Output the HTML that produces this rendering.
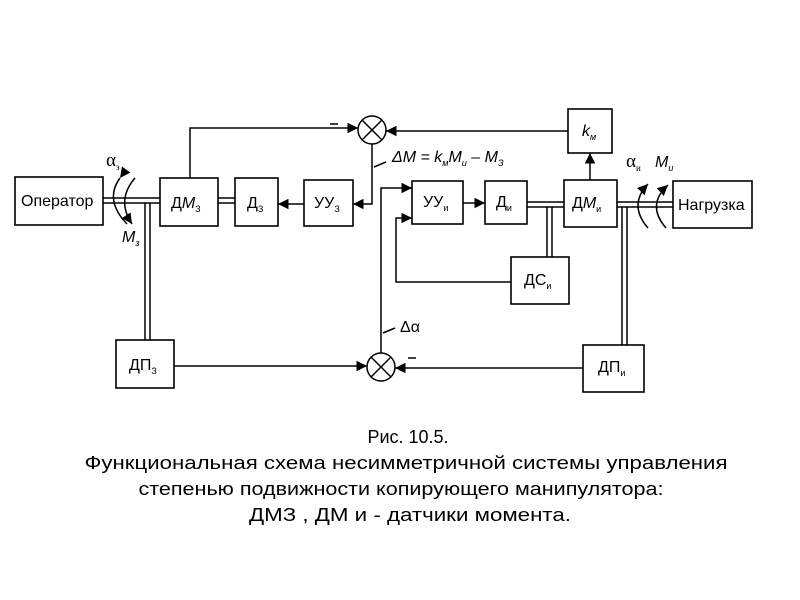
<!DOCTYPE html>
<html><head><meta charset="utf-8"><style>
body{margin:0;background:#fff;}
svg{display:block;font-family:"Liberation Sans",sans-serif;}
.b{fill:#fff;stroke:#000;stroke-width:1.6}
.l{fill:none;stroke:#000;stroke-width:1.5}
.t{font-size:16px;}
.s{font-size:9px;}
.cap{font-size:18px;}
</style></head><body>
<svg width="800" height="600" viewBox="0 0 800 600">
<defs><marker id="a" viewBox="0 0 10 10" refX="10" refY="5" markerWidth="7" markerHeight="7" orient="auto"><path d="M0,0L10,5L0,10z"/></marker></defs>
<g class="l" stroke-width="1.3">
<line x1="103" y1="198" x2="160" y2="198"/><line x1="103" y1="203" x2="160" y2="203"/>
<line x1="145" y1="203" x2="145" y2="340"/><line x1="150" y1="203" x2="150" y2="340"/>
<line x1="218" y1="198" x2="235" y2="198"/><line x1="218" y1="203" x2="235" y2="203"/>
<line x1="527" y1="202" x2="564" y2="202"/><line x1="527" y1="207" x2="564" y2="207"/>
<line x1="547" y1="207" x2="547" y2="257"/><line x1="552" y1="207" x2="552" y2="257"/>
<line x1="617" y1="202" x2="673" y2="202"/><line x1="617" y1="207" x2="673" y2="207"/>
<line x1="622" y1="207" x2="622" y2="345"/><line x1="627" y1="207" x2="627" y2="345"/>
</g>
<rect class="b" x="15" y="177" width="88" height="48"/>
<rect class="b" x="160" y="178" width="58" height="48"/>
<rect class="b" x="235" y="178" width="43" height="48"/>
<rect class="b" x="304" y="180" width="49" height="46"/>
<rect class="b" x="116" y="340" width="58" height="48"/>
<rect class="b" x="568" y="109" width="44" height="44"/>
<rect class="b" x="564" y="180" width="53" height="47"/>
<rect class="b" x="412" y="181" width="51" height="43"/>
<rect class="b" x="485" y="181" width="42" height="43"/>
<rect class="b" x="511" y="257" width="58" height="47"/>
<rect class="b" x="583" y="345" width="61" height="47"/>
<rect class="b" x="673" y="181" width="79" height="47"/>
<g class="l"><circle cx="372" cy="130" r="14"/><line x1="362" y1="120" x2="382" y2="140"/><line x1="382" y1="120" x2="362" y2="140"/>
<circle cx="381" cy="367" r="14"/><line x1="371" y1="357" x2="391" y2="377"/><line x1="391" y1="357" x2="371" y2="377"/></g>
<g class="l">
<polyline points="190,178 190,128 358,128" marker-end="url(#a)"/>
<line x1="568" y1="131" x2="386" y2="131" marker-end="url(#a)"/>
<polyline points="372,144 372,204 353,204" marker-end="url(#a)"/>
<line x1="304" y1="204" x2="278" y2="204" marker-end="url(#a)"/>
<line x1="590" y1="180" x2="590" y2="153" marker-end="url(#a)"/>
<line x1="463" y1="203" x2="485" y2="203" marker-end="url(#a)"/>
<polyline points="511,282 396,282 396,218 412,218" marker-end="url(#a)"/>
<polyline points="381,353 381,188 412,188" marker-end="url(#a)"/>
<line x1="174" y1="366" x2="367" y2="366" marker-end="url(#a)"/>
<line x1="583" y1="368" x2="395" y2="368" marker-end="url(#a)"/>
<line x1="374" y1="167" x2="386" y2="162"/>
<line x1="383" y1="333" x2="395" y2="328"/>
<line x1="330" y1="124" x2="338" y2="124"/>
<line x1="408" y1="358" x2="416" y2="358"/>
<path d="M120,178 Q104,200 127,224" marker-start="url(#a)"/>
<path d="M135,178 Q116,200 132,224" marker-end="url(#a)"/>
<path d="M648,228 Q628,205 648,184" marker-end="url(#a)"/>
<path d="M666,228 Q646,205 668,185" marker-end="url(#a)"/>
</g>
<g class="t">
<text x="21" y="206">Оператор</text>
<text x="171" y="208">Д<tspan font-style="italic">М</tspan><tspan class="s" dy="4">З</tspan></text>
<text x="247" y="208">Д<tspan class="s" dy="4">З</tspan></text>
<text x="314" y="208">УУ<tspan class="s" dy="4">З</tspan></text>
<text x="129" y="370">ДП<tspan class="s" dy="4">З</tspan></text>
<text x="582" y="136" font-style="italic">k<tspan class="s" dy="4">м</tspan></text>
<text x="572" y="208">Д<tspan font-style="italic">М</tspan><tspan class="s" dy="4">и</tspan></text>
<text x="423" y="207">УУ<tspan class="s" dy="4">и</tspan></text>
<text x="496" y="207">Д<tspan class="s" dy="4">и</tspan></text>
<text x="524" y="285">ДС<tspan class="s" dy="4">и</tspan></text>
<text x="598" y="372">ДП<tspan class="s" dy="4">и</tspan></text>
<text x="678" y="210">Нагрузка</text>
<text x="392" y="162" font-style="italic">ΔM = k<tspan class="s" dy="4">м</tspan><tspan dy="-4">M</tspan><tspan class="s" dy="4">и</tspan><tspan dy="-4"> – M</tspan><tspan class="s" dy="4">З</tspan></text>
<text x="400" y="332">Δα</text>
<text x="106" y="166" font-family="Liberation Serif" font-size="19">α<tspan class="s" dy="4">з</tspan></text>
<text x="122" y="242" font-style="italic">M<tspan class="s" dy="4">з</tspan></text>
<text x="626" y="167" font-family="Liberation Serif" font-size="19">α<tspan class="s" dy="4">и</tspan></text>
<text x="655" y="167" font-style="italic">M<tspan class="s" dy="4">и</tspan></text>
</g>
<g class="cap" text-anchor="middle">
<text x="408" y="443">Рис. 10.5.</text>
<text x="406" y="469" textLength="643" lengthAdjust="spacingAndGlyphs">Функциональная схема несимметричной системы управления</text>
<text x="401" y="495" textLength="525" lengthAdjust="spacingAndGlyphs">степенью подвижности копирующего манипулятора:</text>
<text x="410" y="521" textLength="322" lengthAdjust="spacingAndGlyphs">ДМЗ  , ДМ и  - датчики момента.</text>
</g>
</svg>
</body></html>
